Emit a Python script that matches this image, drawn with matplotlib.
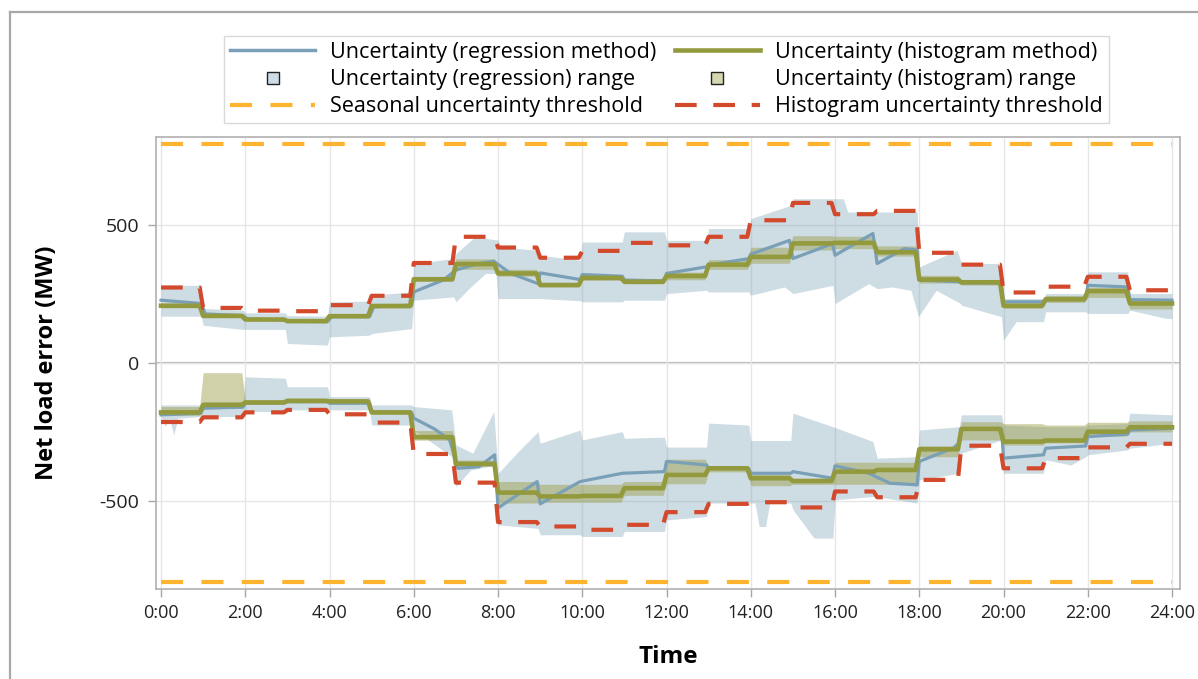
import numpy as np
import matplotlib
matplotlib.use("Agg")
import matplotlib.pyplot as plt
from matplotlib.lines import Line2D

plt.rcParams['font.family'] = ['Open Sans', 'DejaVu Sans']

# ---------------- data ----------------
hours = np.arange(24)

# Histogram method (hourly values, MW)
hist_up = [208, 171, 158, 152, 170, 207, 304, 359, 325, 283, 309, 295,
           316, 357, 385, 434, 436, 402, 303, 293, 208, 231, 261, 216]
hist_up_lo = [200, 165, 153, 148, 165, 200, 296, 340, 315, 276, 300, 287,
              302, 340, 362, 410, 415, 388, 290, 283, 198, 220, 238, 196]
hist_up_hi = [215, 176, 163, 157, 175, 214, 312, 378, 340, 292, 318, 303,
              330, 375, 420, 462, 460, 425, 318, 303, 216, 245, 275, 230]
hist_lo = [-179, -152, -143, -137, -139, -179, -269, -366, -470, -484, -482, -454,
           -406, -382, -418, -428, -394, -388, -313, -239, -285, -281, -249, -233]
hist_lo_hi = [-158, -35, -135, -130, -132, -172, -245, -352, -430, -440, -440, -430,
              -349, -375, -403, -420, -360, -360, -300, -213, -220, -225, -215, -210]
hist_lo_lo = [-190, -165, -150, -145, -146, -186, -280, -375, -508, -505, -505, -480,
              -438, -395, -445, -440, -440, -440, -340, -279, -298, -290, -265, -250]

# Histogram uncertainty threshold (hourly, MW)
thr_up = [274, 200, 190, 188, 210, 244, 363, 458, 419, 382, 407, 436,
          427, 458, 518, 581, 540, 552, 400, 357, 256, 277, 313, 264]
thr_lo = [-214, -197, -179, -170, -186, -216, -330, -434, -577, -593, -605, -587,
          -541, -511, -505, -524, -466, -487, -424, -300, -382, -345, -306, -293]

# Seasonal uncertainty threshold (MW)
seasonal_thr = 795

# Regression method, upper uncertainty (time in hours, MW)
reg_up_t = [0.0, 0.95, 1.05, 1.95, 2.05, 2.95, 3.05, 3.95, 4.05, 4.95, 5.05, 5.95,
            6.0, 6.7, 7.0, 7.5, 7.9, 8.3, 8.95, 9.0, 9.95, 10.0, 10.95, 11.0, 11.95,
            12.0, 12.95, 13.0, 13.95, 14.0, 14.92, 15.0, 15.94, 16.0, 16.9, 17.0,
            17.65, 17.95, 18.0, 18.95, 19.0, 19.95, 20.0, 20.95, 21.0, 21.95, 22.0,
            22.95, 23.0, 24.0]
reg_up_v = [228, 216, 178, 172, 160, 156, 151, 150, 168, 168, 204, 210,
            258, 301, 337, 360, 369, 325, 288, 327, 303, 321, 315, 301, 298,
            325, 349, 355, 379, 395, 445, 379, 433, 391, 470, 361,
            415, 410, 301, 295, 291, 290, 222, 222, 234, 234, 282,
            276, 230, 228]

reg_up_hi_t = [0.0, 0.95, 1.0, 1.95, 2.0, 2.95, 3.0, 3.95, 4.0, 4.95, 5.0, 5.95,
               6.0, 6.95, 7.0, 7.45, 8.0, 8.05, 8.95, 9.0, 9.95, 10.0, 10.95, 11.0,
               11.95, 12.0, 12.95, 13.0, 13.95, 14.0, 14.95, 15.0, 16.2, 16.3, 17.95,
               18.0, 18.9, 19.0, 19.95, 20.0, 20.95, 21.0, 21.95, 22.0, 22.95, 23.0, 24.0]
reg_up_hi_v = [282, 282, 198, 192, 182, 182, 172, 170, 222, 225, 246, 258,
               361, 379, 397, 458, 446, 421, 409, 391, 373, 439, 439, 476,
               476, 445, 445, 488, 488, 524, 572, 596, 596, 548, 548,
               349, 409, 361, 361, 234, 234, 252, 252, 331, 331, 252, 252]

reg_up_lo_t = [0.0, 0.95, 1.0, 1.95, 2.0, 2.95, 3.0, 3.95, 4.0, 4.95, 5.0, 5.95,
               6.0, 6.95, 7.0, 7.35, 7.7, 7.95, 8.0, 8.95, 9.0, 9.95, 10.0, 10.95,
               11.0, 11.95, 12.0, 12.95, 13.0, 13.95, 14.0, 14.8, 15.0, 15.95, 16.0,
               16.8, 17.0, 17.35, 17.8, 17.98, 18.4, 18.98, 19.0, 19.95, 20.0, 20.3,
               20.95, 21.0, 21.95, 22.0, 22.95, 23.0, 23.85]
reg_up_lo_v = [170, 170, 137, 122, 122, 122, 71, 65, 95, 101, 107, 125,
               228, 240, 222, 276, 325, 325, 234, 234, 234, 226, 222, 222,
               228, 228, 252, 264, 258, 258, 246, 276, 252, 282, 216,
               288, 270, 276, 264, 168, 264, 216, 210, 168, 83, 150,
               150, 186, 186, 180, 180, 192, 162]

# Regression method, lower uncertainty (time in hours, MW)
reg_lo_t = [0.0, 0.95, 1.0, 1.95, 2.0, 2.95, 3.0, 3.95, 4.0, 4.95, 5.0, 5.95,
            6.0, 6.5, 6.85, 7.05, 7.55, 7.92, 8.0, 8.93, 9.0, 9.95, 10.95, 11.95,
            12.0, 12.95, 13.0, 13.95, 14.0, 14.95, 15.0, 15.94, 16.0, 16.8, 17.3,
            17.95, 18.0, 18.8, 18.95, 19.0, 19.95, 20.0, 20.95, 21.0, 21.95, 22.0,
            22.95, 23.0, 24.0]
reg_lo_v = [-188, -182, -164, -160, -144, -144, -140, -140, -146, -146, -179, -180,
            -200, -240, -279, -382, -376, -333, -526, -430, -511, -430, -400, -394,
            -357, -370, -382, -382, -400, -400, -394, -418, -373, -400, -436,
            -442, -357, -309, -290, -239, -239, -345, -333, -309, -301, -267,
            -258, -243, -237]

reg_lo_hi_t = [0.0, 0.95, 1.0, 1.95, 2.0, 2.95, 3.0, 3.95, 4.0, 4.95, 5.0, 5.95,
               6.0, 6.9, 7.0, 7.4, 7.9, 8.0, 8.5, 8.95, 9.0, 9.95, 10.0, 10.95,
               11.0, 11.95, 12.0, 12.95, 13.0, 13.95, 14.0, 14.95, 15.0, 15.95,
               16.9, 17.0, 17.95, 18.0, 18.95, 19.0, 19.95, 20.0, 20.95, 21.0,
               21.95, 22.0, 22.95, 23.0, 24.0]
reg_lo_hi_v = [-152, -152, -140, -140, -50, -55, -86, -86, -122, -122, -152, -152,
               -158, -170, -297, -327, -176, -400, -318, -249, -291, -243, -279, -249,
               -273, -269, -305, -305, -218, -225, -281, -281, -182, -231,
               -285, -345, -340, -243, -231, -188, -188, -225, -231, -231,
               -231, -225, -220, -182, -188]

reg_lo_lo_t = [0.0, 0.1, 0.2, 0.3, 0.4, 0.95, 1.95, 2.0, 2.95, 3.0, 4.95, 5.0,
               5.95, 6.0, 6.9, 7.0, 7.35, 7.95, 8.0, 8.95, 9.0, 9.95, 10.0, 10.95,
               11.0, 11.95, 12.0, 12.95, 13.0, 14.1, 14.2, 14.35, 14.45, 14.95,
               15.0, 15.5, 15.95, 16.0, 16.95, 17.95, 18.0, 18.95, 19.0, 19.95,
               20.0, 20.95, 21.0, 21.6, 21.95, 22.0, 22.95, 23.0, 24.0]
reg_lo_lo_v = [-194, -230, -200, -261, -200, -194, -194, -176, -176, -170, -170, -225,
               -225, -243, -339, -448, -388, -370, -587, -600, -623, -623, -629, -629,
               -611, -611, -569, -557, -508, -508, -593, -593, -508, -508,
               -532, -635, -635, -496, -484, -508, -424, -400, -327, -279,
               -400, -400, -351, -370, -340, -333, -315, -309, -291]

x_ticks = np.arange(0, 25, 2)
x_labels = [f"{h}:00" for h in x_ticks]
y_ticks = [-500, 0, 500]

# ---------------- styles ----------------
c_reg = '#7AA0B8'
c_reg_band = '#7FA3B8'
c_hist = '#939A3E'
c_hist_band = '#9A9A40'
c_thr = '#D2492C'
c_season = '#FFB430'

fig = plt.figure(figsize=(11.98, 6.79), dpi=100)
ax = fig.add_axes([0.1302, 0.1325, 0.8548, 0.6657])


def hourly(vals):
    """Expand hourly values onto a 5-minute time axis."""
    t = np.arange(24 * 12 + 1) / 12.0
    v = np.append(np.repeat(np.asarray(vals, float), 12), vals[-1])
    return t, v


def fine(t, v):
    tt = np.linspace(0, 24, 24 * 60 + 1)
    return tt, np.interp(tt, t, v)


# regression ranges
t1, a = fine(reg_up_lo_t, reg_up_lo_v)
_, b = fine(reg_up_hi_t, reg_up_hi_v)
ax.fill_between(t1, a, b, color=c_reg_band, alpha=0.38, lw=0, zorder=1)
t1, a = fine(reg_lo_lo_t, reg_lo_lo_v)
_, b = fine(reg_lo_hi_t, reg_lo_hi_v)
ax.fill_between(t1, a, b, color=c_reg_band, alpha=0.38, lw=0, zorder=1)

# histogram ranges
th, a = hourly(hist_up_lo)
_, b = hourly(hist_up_hi)
ax.fill_between(th, a, b, color=c_hist_band, alpha=0.45, lw=0, zorder=2)
th, a = hourly(hist_lo_lo)
_, b = hourly(hist_lo_hi)
ax.fill_between(th, a, b, color=c_hist_band, alpha=0.45, lw=0, zorder=2)

# regression lines
ax.plot(reg_up_t, reg_up_v, color=c_reg, lw=2.3, zorder=3)
ax.plot(reg_lo_t, reg_lo_v, color=c_reg, lw=2.3, zorder=3)

# histogram lines
th, v = hourly(hist_up)
ax.plot(th, v, color=c_hist, lw=3.3, zorder=4)
th, v = hourly(hist_lo)
ax.plot(th, v, color=c_hist, lw=3.3, zorder=4)

# histogram thresholds
th, v = hourly(thr_up)
ax.plot(th, v, color=c_thr, lw=3.0, dashes=(5.2, 4.0), zorder=5)
th, v = hourly(thr_lo)
ax.plot(th, v, color=c_thr, lw=3.0, dashes=(5.2, 4.0), zorder=5)

# seasonal thresholds
ax.plot([0, 24], [seasonal_thr, seasonal_thr], color=c_season, lw=3.0,
        dashes=(5.3, 4.4), zorder=5)
ax.plot([0, 24], [-seasonal_thr, -seasonal_thr], color=c_season, lw=3.0,
        dashes=(5.3, 4.4), zorder=5)

ax.axhline(0, color='#B4B4B4', lw=1.5, zorder=0.5)

ax.set_xlim(-0.12, 24.19)
ax.set_ylim(-820, 820)
ax.set_xticks(x_ticks)
ax.set_xticklabels(x_labels, fontsize=13, color='#222222')
ax.set_yticks(y_ticks)
ax.set_yticklabels([str(t) for t in y_ticks], fontsize=14, color='#222222')
ax.tick_params(axis='both', direction='out', length=6, width=1, color='#A8A8A8')
ax.tick_params(axis='x', pad=5)
ax.tick_params(axis='y', pad=6)
ax.grid(True, color='#E6E6E6', lw=1.0, zorder=0)
ax.set_axisbelow(True)
for s in ax.spines.values():
    s.set_color('#B0B0B0')
    s.set_linewidth(1.2)

ax.set_xlabel('Time', fontsize=17.5, fontweight='bold', labelpad=16)
ax.set_ylabel('Net load error (MW)', fontsize=17, fontweight='bold', labelpad=29)

handles = [
    Line2D([], [], color=c_reg, lw=2.5),
    Line2D([], [], ls='none', marker='s', markersize=9, markerfacecolor='#CDDCE6',
           markeredgecolor='#222222', markeredgewidth=1.0),
    Line2D([], [], color=c_season, lw=3.0, dashes=(5.3, 4.4)),
    Line2D([], [], color=c_hist, lw=3.3),
    Line2D([], [], ls='none', marker='s', markersize=9, markerfacecolor='#D6D6B0',
           markeredgecolor='#222222', markeredgewidth=1.0),
    Line2D([], [], color=c_thr, lw=3.0, dashes=(5.2, 4.0)),
]
labels = [
    'Uncertainty (regression method)',
    'Uncertainty (regression) range',
    'Seasonal uncertainty threshold',
    'Uncertainty (histogram method)',
    'Uncertainty (histogram) range',
    'Histogram uncertainty threshold',
]
leg = fig.legend(handles, labels, ncol=2, loc='upper left',
                 bbox_to_anchor=(0.187, 0.947), bbox_transform=fig.transFigure,
                 fontsize=15.5, frameon=True, fancybox=False, handlelength=3.95,
                 handletextpad=0.7, columnspacing=0.85, labelspacing=0.28,
                 borderpad=0.28, borderaxespad=0)
leg.get_frame().set_edgecolor('#D0D0D0')
leg.get_frame().set_linewidth(1.0)

# outer frame
fig.add_artist(Line2D([10 / 1198, 10 / 1198], [0, 1 - 12 / 679], color='#A8A8A8',
                      lw=1.6, transform=fig.transFigure))
fig.add_artist(Line2D([10 / 1198, 1], [1 - 12 / 679, 1 - 12 / 679], color='#A8A8A8',
                      lw=1.6, transform=fig.transFigure))

fig.savefig('out.png', dpi=100)
